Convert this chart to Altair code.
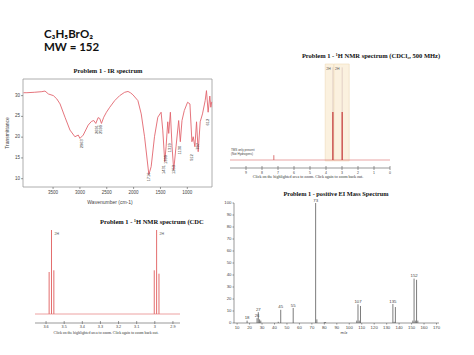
import altair as alt
import pandas as pd

# ---------------- texts ----------------
FORMULA = "C₃H₅BrO₂"
MW_TEXT = "MW = 152"
IR_TITLE = "Problem 1 - IR spectrum"
IR_X_TITLE = "Wavenumber (cm-1)"
IR_Y_TITLE = "Transmittance"
NMR_TITLE = "Problem 1 - ¹H NMR spectrum (CDCl₃, 500 MHz)"
NMR_ZOOM_TITLE = "Problem 1 - ¹H NMR spectrum (CDC"
MS_TITLE = "Problem 1 - positive EI Mass Spectrum"
MS_X_TITLE = "m/z"
CAPTION = "Click on the highlighted area to zoom. Click again to zoom back out."
NMR_NOTE_1 = "TMS only present"
NMR_NOTE_2 = "(Not Hydrogens)"

# ---------------- IR data ----------------
ir_wavenumber = [4050, 3987, 3850, 3709, 3650, 3587, 3494, 3430, 3370, 3278,
                 3185, 3093, 3031, 3000, 2938, 2846, 2784, 2741, 2704, 2661,
                 2630, 2599, 2556, 2506, 2444, 2352, 2259, 2167, 2105, 2060,
                 2013, 1920, 1858, 1796, 1747, 1716, 1673, 1611, 1549, 1488,
                 1457, 1420, 1395, 1364, 1346, 1315, 1284, 1253, 1210, 1161,
                 1130, 1099, 1056, 995, 951, 914, 890, 859, 828, 797,
                 760, 717, 667, 643, 612, 581, 562, 545]
ir_transmittance = [30.7, 30.7, 30.8, 30.95, 31.1, 30.4, 30.0, 29.2, 28.0, 24.8,
                    21.7, 20.1, 20.5, 19.7, 20.5, 22.9, 23.8, 24.0, 23.3, 24.7,
                    24.5, 23.3, 24.8, 26.0, 27.2, 28.8, 30.0, 30.8, 31.0, 30.7,
                    30.2, 28.8, 25.6, 20.1, 14.5, 11.0, 12.9, 20.1, 24.8, 26.0,
                    21.7, 14.1, 17.7, 23.7, 20.9, 26.0, 17.7, 12.1, 17.7, 24.0,
                    18.9, 24.0, 26.4, 28.4, 28.0, 18.9, 20.1, 17.7, 23.7, 16.5,
                    23.7, 25.6, 28.8, 31.2, 26.0, 29.9, 27.2, 28.5]
ir_xticks = [3500, 3000, 2500, 2000, 1500, 1000]
ir_yticks = [10, 15, 20, 25, 30]
ir_label_wn = [2963, 2691, 2599, 1716, 1431, 1399, 1319, 1253, 1130, 912, 797, 612]
ir_label_t = [19.5, 22.9, 22.9, 11.5, 13.3, 15.7, 18.5, 13.3, 17.9, 15.9, 18.6, 24.4]

# ---------------- 1H NMR (full) ----------------
nmr_ticks = [9, 8, 7, 6, 5, 4, 3, 2, 1, 0]
nmr_main_ppm = [3.57, 2.99]
nmr_main_height = [1.0, 1.0]
nmr_solvent_ppm = [7.26]
nmr_solvent_height = [0.1]
nmr_region_from = [4.05, 3.50]
nmr_region_to = [3.52, 2.55]
nmr_region_label = ["2H", "2H"]

# ---------------- 1H NMR (zoom) ----------------
zoom_ticks = [3.6, 3.5, 3.4, 3.3, 3.2, 3.1, 3.0, 2.9]
zoom_ppm = [3.583, 3.570, 3.557, 3.003, 2.990, 2.977]
zoom_height = [0.50, 1.00, 0.52, 0.52, 1.00, 0.48]
zoom_label_ppm = [3.570, 2.990]
zoom_label = ["2H", "2H"]

# ---------------- EI mass spectrum ----------------
ms_mz = [18, 26, 27, 28, 29, 43, 45, 55, 73, 74, 80, 81, 106, 107, 108, 109,
         135, 136, 137, 151, 152, 153, 154, 155]
ms_intensity = [2, 4, 9, 3, 2, 1, 11, 12.5, 100, 3, 0.8, 0.8, 2, 15.6, 2, 14.2,
                15.8, 1, 13.3, 2, 37, 2, 36, 2]
ms_label_mz = [18, 26, 27, 45, 55, 73, 107, 135, 152]
ms_label_int = [2, 4, 9, 11, 12.5, 100, 15.6, 15.8, 37]
ms_xticks = list(range(10, 171, 10))
ms_yticks = list(range(0, 101, 10))

# ---------------- helpers ----------------
AXC = "#555"
AXF = "Liberation Sans"
ONE = pd.DataFrame({"k": [0]})


def sc(domain, rng):
    return alt.Scale(domain=domain, range=rng, nice=False, zero=False)


def label(text, x, y, size, font="Liberation Serif", weight="bold", color="#111",
          align="center", angle=0):
    return alt.Chart(pd.DataFrame({"text": [text]})).mark_text(
        x=x, y=y, fontSize=size, font=font, fontWeight=weight, color=color,
        align=align, baseline="middle", angle=angle
    ).encode(text="text:N")


def x_axis(ticks, scale, y_px, lo=None, hi=None, size=4.3, t0=0, t1=2, gap=1):
    df = pd.DataFrame({"v": ticks, "lab": [f"{v:g}" for v in ticks]})
    parts = []
    if lo is not None:
        parts.append(alt.Chart(ONE).mark_rule(color=AXC, strokeWidth=0.6).encode(
            x=alt.X(datum=lo, scale=scale, axis=None), x2=alt.X2(datum=hi),
            y=alt.value(y_px)))
    parts.append(alt.Chart(df).mark_rule(color=AXC, strokeWidth=0.6).encode(
        x=alt.X("v:Q", scale=scale, axis=None),
        y=alt.value(y_px - t0), y2=alt.value(y_px + t1)))
    parts.append(alt.Chart(df).mark_text(
        baseline="top", fontSize=size, font=AXF, color="#444").encode(
        x=alt.X("v:Q", scale=scale, axis=None),
        y=alt.value(y_px + t1 + gap), text="lab:N"))
    return parts


def y_axis(ticks, scale, x_px, lo=None, hi=None, size=4.3, t1=2, gap=1):
    df = pd.DataFrame({"v": ticks, "lab": [f"{v:g}" for v in ticks]})
    parts = []
    if lo is not None:
        parts.append(alt.Chart(ONE).mark_rule(color=AXC, strokeWidth=0.6).encode(
            y=alt.Y(datum=lo, scale=scale, axis=None), y2=alt.Y2(datum=hi),
            x=alt.value(x_px)))
    parts.append(alt.Chart(df).mark_rule(color=AXC, strokeWidth=0.6).encode(
        y=alt.Y("v:Q", scale=scale, axis=None),
        x=alt.value(x_px - t1), x2=alt.value(x_px)))
    parts.append(alt.Chart(df).mark_text(
        align="right", baseline="middle", fontSize=size, font=AXF, color="#444").encode(
        y=alt.Y("v:Q", scale=scale, axis=None),
        x=alt.value(x_px - t1 - gap), text="lab:N"))
    return parts


# ---------------- IR panel ----------------
ir_x = sc([4060, 540], [23, 212])
ir_y = sc([8, 34], [187, 79])
ir_df = pd.DataFrame({"wn": ir_wavenumber, "t": ir_transmittance})
ir_lab = pd.DataFrame({"wn": ir_label_wn, "t": ir_label_t,
                       "txt": [str(v) for v in ir_label_wn]})

ir_frame = alt.Chart(ONE).mark_rect(fillOpacity=0, stroke="#9a9a9a", strokeWidth=0.8).encode(
    x=alt.X(datum=4060, scale=ir_x, axis=None), x2=alt.X2(datum=540),
    y=alt.Y(datum=8, scale=ir_y, axis=None), y2=alt.Y2(datum=34))
ir_line = alt.Chart(ir_df).mark_line(color="#e2656e", strokeWidth=0.9).encode(
    x=alt.X("wn:Q", scale=ir_x, axis=None),
    y=alt.Y("t:Q", scale=ir_y, axis=None))
ir_labels = alt.Chart(ir_lab).mark_text(
    angle=270, align="right", baseline="middle", fontSize=4, font=AXF,
    color="#333").encode(
    x=alt.X("wn:Q", scale=ir_x, axis=None), y=alt.Y("t:Q", scale=ir_y, axis=None),
    text="txt:N")
ir_panel = alt.layer(ir_frame, ir_line, ir_labels,
                     *x_axis(ir_xticks, ir_x, 187, size=4.5),
                     *y_axis(ir_yticks, ir_y, 23, size=4.5))

# ---------------- NMR full panel ----------------
nt_x = sc([10, 0], [230, 390])
nt_y = sc([0, 2], [160, 64])
reg_df = pd.DataFrame({"a": nmr_region_from, "b": nmr_region_to, "lab": nmr_region_label})
main_df = pd.DataFrame({"ppm": nmr_main_ppm, "h": nmr_main_height})
solv_df = pd.DataFrame({"ppm": nmr_solvent_ppm, "h": nmr_solvent_height})

nt_regions = alt.Chart(reg_df).mark_rect(color="#fbf1df", stroke="#f0dcb8", strokeWidth=0.6).encode(
    x=alt.X("a:Q", scale=nt_x, axis=None), x2="b:Q",
    y=alt.Y(datum=-0.02, scale=nt_y, axis=None), y2=alt.Y2(datum=2.0))
nt_reg_lab = alt.Chart(reg_df).mark_text(
    align="left", dx=1, baseline="middle", fontSize=3.5, font=AXF, color="#555").encode(
    x=alt.X("a:Q", scale=nt_x, axis=None), y=alt.Y(datum=1.9, scale=nt_y, axis=None), text="lab:N")
nt_base = alt.Chart(ONE).mark_rule(color="#e08080", strokeWidth=0.7).encode(
    x=alt.X(datum=10, scale=nt_x, axis=None), x2=alt.X2(datum=0),
    y=alt.Y(datum=0, scale=nt_y, axis=None))
nt_tops = alt.Chart(main_df).mark_rule(color="#dcc8bf", strokeWidth=0.8).encode(
    x=alt.X("ppm:Q", scale=nt_x, axis=None), y=alt.Y("h:Q", scale=nt_y, axis=None),
    y2=alt.Y2(datum=1.93))
nt_peaks = alt.Chart(main_df).mark_rule(color="#c43c3c", strokeWidth=1.3).encode(
    x=alt.X("ppm:Q", scale=nt_x, axis=None), y=alt.Y("h:Q", scale=nt_y, axis=None),
    y2=alt.Y2(datum=0))
nt_solv = alt.Chart(solv_df).mark_rule(color="#d05050", strokeWidth=0.8).encode(
    x=alt.X("ppm:Q", scale=nt_x, axis=None), y=alt.Y("h:Q", scale=nt_y, axis=None),
    y2=alt.Y2(datum=0))
nmr_panel = alt.layer(nt_regions, nt_reg_lab, nt_base, nt_tops, nt_peaks, nt_solv,
                      *x_axis(nmr_ticks, nt_x, 168, lo=10, hi=0, size=3.5, t0=2, t1=2))

# ---------------- NMR zoom panel ----------------
nb_x = sc([3.661, 2.861], [35, 180])
nb_y = sc([0, 1], [314, 230])
zoom_df = pd.DataFrame({"ppm": zoom_ppm, "h": zoom_height})
zoom_lab = pd.DataFrame({"ppm": zoom_label_ppm, "lab": zoom_label})

nb_base = alt.Chart(ONE).mark_rule(color="#e88a8a", strokeWidth=0.8).encode(
    x=alt.X(datum=3.661, scale=nb_x, axis=None), x2=alt.X2(datum=2.861),
    y=alt.Y(datum=0, scale=nb_y, axis=None))
nb_peaks = alt.Chart(zoom_df).mark_rule(color="#e36d6d", strokeWidth=1.0).encode(
    x=alt.X("ppm:Q", scale=nb_x, axis=None),
    y=alt.Y("h:Q", scale=nb_y, axis=None), y2=alt.Y2(datum=0))
nb_labels = alt.Chart(zoom_lab).mark_text(
    align="left", dx=3, baseline="middle", fontSize=3.5, font=AXF, color="#555").encode(
    x=alt.X("ppm:Q", scale=nb_x, axis=None), y=alt.Y(datum=0.95, scale=nb_y, axis=None),
    text="lab:N")
zoom_panel = alt.layer(nb_base, nb_peaks, nb_labels,
                       *x_axis(zoom_ticks, nb_x, 323, lo=3.661, hi=2.861, size=3.8, t0=2, t1=1))

# ---------------- MS panel ----------------
ms_x = sc([7.5, 172], [234, 439])
ms_y = sc([0, 100], [323, 203])
ms_df = pd.DataFrame({"mz": ms_mz, "i": ms_intensity})
ms_lab = pd.DataFrame({"mz": ms_label_mz, "i": ms_label_int,
                       "txt": [str(v) for v in ms_label_mz]})

ms_bars = alt.Chart(ms_df).mark_rule(color="#5a5a5a", strokeWidth=0.8).encode(
    x=alt.X("mz:Q", scale=ms_x, axis=None),
    y=alt.Y("i:Q", scale=ms_y, axis=None),
    y2=alt.Y2(datum=0))
ms_labels = alt.Chart(ms_lab).mark_text(
    baseline="bottom", dy=-0.5, fontSize=4.3, font=AXF, color="#444").encode(
    x=alt.X("mz:Q", scale=ms_x, axis=None), y=alt.Y("i:Q", scale=ms_y, axis=None),
    text="txt:N")
ms_panel = alt.layer(ms_bars, ms_labels,
                     *x_axis(ms_xticks, ms_x, 323, lo=7.5, hi=172, size=4.3, t1=1.5),
                     *y_axis(ms_yticks, ms_y, 234, lo=0, hi=100, size=4.3, t1=1.5))

# ---------------- free texts ----------------
texts = [
    label(FORMULA, 44, 35, 11.5, font="Lato", align="left"),
    label(MW_TEXT, 44, 48, 11.5, font="Lato", align="left"),
    label(IR_TITLE, 108, 71, 6.5),
    label(IR_X_TITLE, 110, 202, 5, font=AXF, weight="normal", color="#444"),
    label(IR_Y_TITLE, 7, 133, 5, font=AXF, weight="normal", color="#444", angle=270),
    label(NMR_TITLE, 371, 56, 6.5),
    label(CAPTION, 308, 177, 4, weight="normal", color="#333"),
    label(NMR_NOTE_1, 231, 150, 3, font=AXF, weight="normal", color="#444", align="left"),
    label(NMR_NOTE_2, 231, 153.5, 3, font=AXF, weight="normal", color="#444", align="left"),
    label(NMR_ZOOM_TITLE, 100, 222, 6.5, align="left"),
    label(CAPTION, 106, 333, 3.8, weight="normal", color="#333"),
    label(MS_TITLE, 336, 194, 6.3),
    label(MS_X_TITLE, 344, 333, 4.3, font=AXF, weight="normal", color="#444"),
]

chart = alt.layer(ir_panel, nmr_panel, zoom_panel, ms_panel, *texts).resolve_scale(
    x="independent", y="independent"
).properties(
    width=474, height=355, padding=0,
    autosize=alt.AutoSizeParams(type="none"), background="white"
).configure_view(stroke=None)

chart.save("out.html", embed_options={"renderer": "svg", "actions": False})
